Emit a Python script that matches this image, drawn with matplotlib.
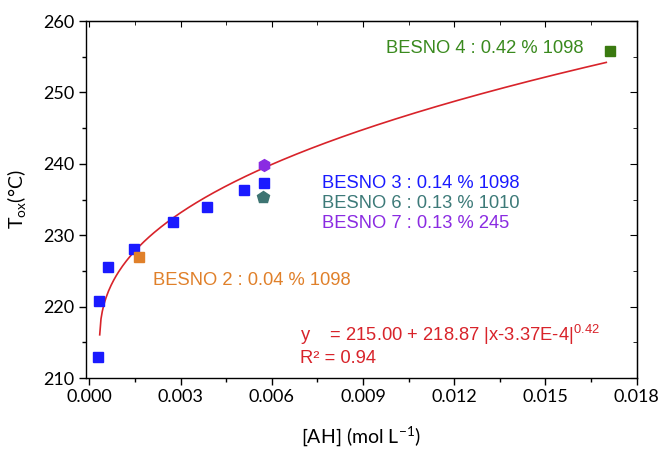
import numpy as np
import matplotlib
matplotlib.use('Agg')
import matplotlib.pyplot as plt

# Données
besno3_x = [0.00028, 0.00031, 0.00061, 0.00147, 0.00275, 0.00387, 0.0051, 0.00575]
besno3_y = [212.9, 220.8, 225.5, 228.1, 231.8, 233.9, 236.3, 237.3]
besno2_x = [0.00163]
besno2_y = [226.9]
besno6_x = [0.00572]
besno6_y = [235.3]
besno7_x = [0.00575]
besno7_y = [239.8]
besno4_x = [0.01712]
besno4_y = [255.8]

# Paramètres de l'ajustement (affichés sur la figure)
fit_a = 215.00
fit_b = 218.87
fit_x0 = 3.37e-4
fit_p = 0.42
fit_range = (0.00034, 0.0170)

xticks = [0.000, 0.003, 0.006, 0.009, 0.012, 0.015, 0.018]
yticks = [210, 220, 230, 240, 250, 260]

plt.rcParams['mathtext.fontset'] = 'custom'
plt.rcParams['mathtext.rm'] = 'Liberation Sans'
plt.rcParams['mathtext.sf'] = 'Lato'

fig = plt.figure(figsize=(6.63, 4.54), dpi=100)
ax = fig.add_axes([0.1293, 0.1674, 0.831, 0.7863])

# Courbe d'ajustement
xf = np.linspace(fit_range[0], fit_range[1], 400)
yf = fit_a + fit_b * np.abs(xf - fit_x0) ** fit_p
ax.plot(xf, yf, color='#d8232a', lw=1.2, zorder=2)

# Points
ax.plot(besno3_x, besno3_y, 's', color='#1a1aff', ms=7.5, mec='#1a1aff', zorder=3)
ax.plot(besno2_x, besno2_y, 's', color='#e0802a', ms=7.5, zorder=3)
ax.plot(besno6_x, besno6_y, 'p', color='#3d7472', ms=9, zorder=3)
ax.plot(besno7_x, besno7_y, 'h', color='#8a2be2', ms=8.5, zorder=3)
ax.plot(besno4_x, besno4_y, 's', color='#3a7a10', ms=6.5, zorder=3)

# Textes
tf = dict(fontfamily='Liberation Sans', fontsize=13.2)
ax.text(0.00974, 256.2, 'BESNO 4 : 0.42 % 1098', color='#3a8a1e', va='center', **tf)
ax.text(0.00766, 237.3, 'BESNO 3 : 0.14 % 1098', color='#1a1aff', va='center', **tf)
ax.text(0.00766, 234.5, 'BESNO 6 : 0.13 % 1010', color='#3d7a78', va='center', **tf)
ax.text(0.00766, 231.7, 'BESNO 7 : 0.13 % 245', color='#8a2be2', va='center', **tf)
ax.text(0.00209, 223.6, 'BESNO 2 : 0.04 % 1098', color='#e0802a', va='center', **tf)
ax.text(0.00694, 216.0, r'y    = 215.00 + 218.87 |x-3.37E-4|$^{\mathrm{0.42}}$',
        color='#d8232a', va='center', **tf)
ax.text(0.00694, 212.8, 'R² = 0.94', color='#d8232a', va='center', **tf)

ax.set_xlim(-0.00012, 0.018)
ax.set_ylim(210, 260)
ax.set_xticks(xticks)
ax.set_yticks(yticks)
ax.set_xticklabels(['%.3f' % v for v in xticks], fontfamily='Lato', fontsize=13)
ax.set_yticklabels([str(v) for v in yticks], fontfamily='Lato', fontsize=13)
ax.set_xticks(np.arange(0.0015, 0.018, 0.003), minor=True)
ax.set_yticks(np.arange(215, 260, 10), minor=True)

ax.tick_params(which='major', direction='out', length=5, width=1, pad=3)
ax.tick_params(which='minor', direction='out', length=3, width=1)
for sp in ax.spines.values():
    sp.set_linewidth(1)

# Graduations intérieures en haut et à droite
top = ax.secondary_xaxis('top')
top.set_xticks(xticks)
top.set_xticks(np.arange(0.0015, 0.018, 0.003), minor=True)
top.tick_params(which='major', direction='in', length=4, labeltop=False)
top.tick_params(which='minor', direction='in', length=3)
right = ax.secondary_yaxis('right')
right.set_yticks(yticks)
right.set_yticks(np.arange(215, 260, 10), minor=True)
right.tick_params(which='major', direction='in', length=5, labelright=False)
right.tick_params(which='minor', direction='in', length=3)

ax.set_xlabel('[AH] (mol L$^{\\mathsf{-1}}$)', fontfamily='Lato', fontsize=14, labelpad=14)
ax.set_ylabel('T$_{\\mathsf{ox}}$(°C)', fontfamily='Lato', fontsize=14, labelpad=10)

fig.savefig('out.png', dpi=100)
